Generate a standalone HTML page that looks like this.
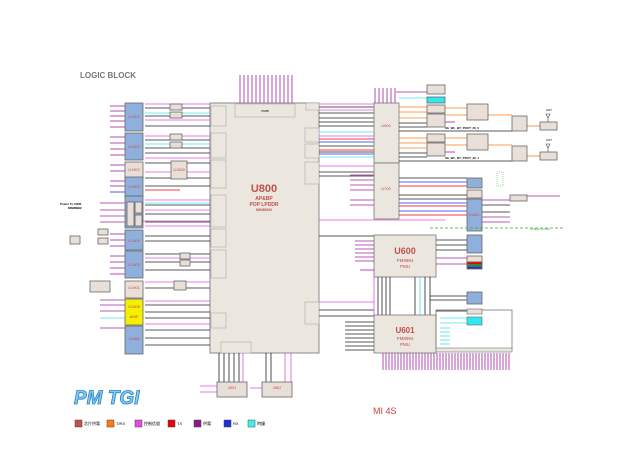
<!DOCTYPE html>
<html><head><meta charset="utf-8"><style>
html,body{margin:0;padding:0;background:#fff;}
svg{display:block;font-family:"Liberation Sans","Noto Sans CJK SC",sans-serif;}
</style></head><body>
<svg width="640" height="453" viewBox="0 0 640 453" xmlns="http://www.w3.org/2000/svg">
<rect width="640" height="453" fill="#fff"/>
<text x="80" y="78" font-size="8" font-weight="bold" fill="#777">LOGIC BLOCK</text>

<!-- U800 -->
<rect x="210" y="103" width="109" height="250" fill="#ebe7df" stroke="#888" stroke-width="1"/>
<rect x="235" y="104" width="60" height="13" fill="#ebe7df" stroke="#aaa" stroke-width="0.6"/>
<text x="265" y="112" font-size="3" text-anchor="middle">PMIB</text>
<g fill="#ebe7df" stroke="#aaa" stroke-width="0.6" font-size="3">
<rect x="211" y="106" width="15" height="20"/><rect x="211" y="133" width="15" height="25"/>
<rect x="211" y="160" width="15" height="28"/><rect x="211" y="195" width="15" height="32"/>
<rect x="211" y="229" width="15" height="18"/><rect x="211" y="250" width="15" height="28"/>
<rect x="211" y="313" width="15" height="15"/><rect x="221" y="342" width="30" height="11"/>
<rect x="306" y="103" width="13" height="7"/><rect x="305" y="128" width="14" height="14"/>
<rect x="305" y="144" width="14" height="14"/><rect x="305" y="162" width="14" height="22"/>
<rect x="305" y="302" width="14" height="22"/>
</g>
<text x="264" y="192" font-size="11" font-weight="bold" fill="#c0504d" text-anchor="middle">U800</text>
<text x="264" y="200" font-size="5" font-weight="bold" fill="#c0504d" text-anchor="middle">AP&amp;BP</text>
<text x="264" y="206" font-size="5" font-weight="bold" fill="#c0504d" text-anchor="middle">POP LPDDR</text>
<text x="264" y="211" font-size="3.5" font-weight="bold" fill="#c0504d" text-anchor="middle">MSM8992</text>

<!-- top pins U800 -->
<g stroke="#a020a0" stroke-width="0.8">
<line x1="240" y1="75" x2="240" y2="103"/><line x1="244" y1="75" x2="244" y2="103"/><line x1="248" y1="75" x2="248" y2="103"/><line x1="252" y1="75" x2="252" y2="103"/><line x1="256" y1="75" x2="256" y2="103"/><line x1="260" y1="75" x2="260" y2="103"/><line x1="264" y1="75" x2="264" y2="103"/><line x1="268" y1="75" x2="268" y2="103"/><line x1="272" y1="75" x2="272" y2="103"/><line x1="276" y1="75" x2="276" y2="103"/><line x1="280" y1="75" x2="280" y2="103"/><line x1="284" y1="75" x2="284" y2="103"/><line x1="288" y1="75" x2="288" y2="103"/><line x1="292" y1="75" x2="292" y2="103"/>
</g>

<!-- left side lines -->
<g stroke-width="0.8">
<g stroke="#222">
<line x1="145" y1="108" x2="210" y2="108"/><line x1="145" y1="116" x2="210" y2="116"/><line x1="145" y1="126" x2="210" y2="126"/><line x1="145" y1="140" x2="210" y2="140"/><line x1="145" y1="148" x2="210" y2="148"/><line x1="145" y1="153" x2="210" y2="153"/><line x1="145" y1="163" x2="210" y2="163"/><line x1="145" y1="178" x2="210" y2="178"/><line x1="145" y1="186" x2="210" y2="186"/><line x1="145" y1="205" x2="210" y2="205"/><line x1="145" y1="214" x2="210" y2="214"/><line x1="145" y1="222" x2="210" y2="222"/><line x1="145" y1="236" x2="210" y2="236"/><line x1="145" y1="241" x2="210" y2="241"/><line x1="145" y1="254" x2="210" y2="254"/><line x1="145" y1="262" x2="210" y2="262"/><line x1="145" y1="270" x2="210" y2="270"/><line x1="145" y1="288" x2="210" y2="288"/><line x1="145" y1="305" x2="210" y2="305"/><line x1="145" y1="312" x2="210" y2="312"/><line x1="145" y1="318" x2="210" y2="318"/><line x1="145" y1="330" x2="210" y2="330"/><line x1="145" y1="338" x2="210" y2="338"/><line x1="145" y1="345" x2="210" y2="345"/>
</g>
<g stroke="#e050e0">
<line x1="145" y1="104" x2="210" y2="104"/><line x1="145" y1="120" x2="210" y2="120"/><line x1="145" y1="136" x2="210" y2="136"/><line x1="145" y1="158" x2="210" y2="158"/><line x1="145" y1="172" x2="210" y2="172"/><line x1="145" y1="200" x2="210" y2="200"/><line x1="145" y1="210" x2="210" y2="210"/><line x1="145" y1="226" x2="210" y2="226"/><line x1="145" y1="258" x2="210" y2="258"/><line x1="145" y1="282" x2="210" y2="282"/><line x1="145" y1="301" x2="210" y2="301"/><line x1="145" y1="324" x2="210" y2="324"/><line x1="136" y1="221" x2="210" y2="221"/>
</g>
<g stroke="#40e0f0">
<line x1="145" y1="113" x2="210" y2="113"/><line x1="145" y1="144" x2="210" y2="144"/><line x1="145" y1="203" x2="210" y2="203"/>
</g>
<line x1="145" y1="190" x2="180" y2="190" stroke="#e00"/>
</g>
<!-- left chip inputs -->
<g stroke="#a020a0" stroke-width="0.8">
<line x1="110" y1="106" x2="125" y2="106"/><line x1="110" y1="111" x2="125" y2="111"/><line x1="110" y1="116" x2="125" y2="116"/><line x1="110" y1="121" x2="125" y2="121"/><line x1="110" y1="127" x2="125" y2="127"/>
<line x1="110" y1="137" x2="125" y2="137"/><line x1="110" y1="143" x2="125" y2="143"/><line x1="110" y1="149" x2="125" y2="149"/><line x1="110" y1="155" x2="125" y2="155"/>
<line x1="110" y1="165" x2="125" y2="165"/><line x1="110" y1="171" x2="125" y2="171"/><line x1="110" y1="181" x2="125" y2="181"/><line x1="110" y1="186" x2="125" y2="186"/>
<line x1="100" y1="203" x2="125" y2="203"/><line x1="100" y1="210" x2="125" y2="210"/><line x1="100" y1="216" x2="125" y2="216"/><line x1="100" y1="222" x2="125" y2="222"/>
<line x1="110" y1="234" x2="125" y2="234"/><line x1="110" y1="240" x2="125" y2="240"/><line x1="110" y1="246" x2="125" y2="246"/>
<line x1="110" y1="256" x2="125" y2="256"/><line x1="110" y1="262" x2="125" y2="262"/><line x1="110" y1="268" x2="125" y2="268"/><line x1="110" y1="274" x2="125" y2="274"/>
<line x1="100" y1="300" x2="125" y2="300"/><line x1="100" y1="305" x2="125" y2="305"/><line x1="100" y1="311" x2="125" y2="311"/><line x1="100" y1="328" x2="125" y2="328"/>
</g>
<line x1="100" y1="318" x2="125" y2="318" stroke="#40e0f0" stroke-width="0.8"/>
<line x1="110" y1="192" x2="125" y2="192" stroke="#2030e0" stroke-width="0.8"/>

<!-- left chips -->
<g stroke="#666" stroke-width="0.8">
<rect x="125" y="103" width="18" height="28" fill="#8fb0dc"/>
<rect x="125" y="133" width="18" height="27" fill="#8fb0dc"/>
<rect x="125" y="162" width="18" height="16" fill="#e8e0d8"/>
<rect x="125" y="177" width="18" height="19" fill="#8fb0dc"/>
<rect x="125" y="196" width="18" height="32" fill="#8fb0dc"/>
<rect x="127" y="202" width="7" height="24" fill="#e8e0d8"/><rect x="135" y="202" width="7" height="11" fill="#e8e0d8"/><rect x="135" y="215" width="7" height="11" fill="#e8e0d8"/>
<rect x="125" y="230" width="18" height="20" fill="#8fb0dc"/>
<rect x="125" y="251" width="18" height="27" fill="#8fb0dc"/>
<rect x="125" y="281" width="18" height="17" fill="#e8e0d8"/>
<rect x="125" y="299" width="18" height="26" fill="#f5f000"/>
<rect x="125" y="326" width="18" height="28" fill="#8fb0dc"/>
<rect x="170" y="104" width="12" height="6" fill="#e8e0d8"/><rect x="170" y="112" width="12" height="6" fill="#e8e0d8"/>
<rect x="170" y="134" width="12" height="6" fill="#e8e0d8"/><rect x="170" y="142" width="12" height="6" fill="#e8e0d8"/>
<rect x="171" y="161" width="16" height="18" fill="#e8e0d8"/>
<rect x="98" y="229" width="10" height="6" fill="#e8e0d8"/><rect x="98" y="238" width="10" height="6" fill="#e8e0d8"/>
<rect x="70" y="236" width="10" height="8" fill="#e8e0d8"/>
<rect x="180" y="253" width="10" height="6" fill="#e8e0d8"/><rect x="180" y="260" width="10" height="6" fill="#e8e0d8"/>
<rect x="174" y="281" width="12" height="9" fill="#e8e0d8"/>
<rect x="90" y="281" width="20" height="11" fill="#e8e0d8"/>
</g>
<g font-size="4" fill="#c0504d" text-anchor="middle">
<text x="134" y="118">U1301</text><text x="134" y="148">U1302</text><text x="134" y="171">U1902</text><text x="134" y="188">U1903</text><text x="134" y="242">U1304</text><text x="134" y="266">U1303</text><text x="134" y="289">U1901</text><text x="134" y="308">U1509</text><text x="134" y="318">AMP</text><text x="134" y="340">J1308</text><text x="179" y="171">U1500</text>
</g>
<text x="60" y="205" font-size="3" font-weight="bold">Power To U800</text>
<text x="68" y="209" font-size="3" font-weight="bold">MSM8992</text>

<!-- bottom chips -->
<g stroke="#222" stroke-width="0.8">
<line x1="219" y1="353" x2="219" y2="382"/><line x1="224" y1="353" x2="224" y2="382"/><line x1="229" y1="353" x2="229" y2="382"/><line x1="234" y1="353" x2="234" y2="382"/><line x1="239" y1="353" x2="239" y2="382"/><line x1="266" y1="353" x2="266" y2="382"/><line x1="271" y1="353" x2="271" y2="382"/>
</g>
<g stroke="#e050e0" stroke-width="0.8"><line x1="243" y1="353" x2="243" y2="382"/><line x1="285" y1="353" x2="285" y2="382"/><line x1="291" y1="353" x2="291" y2="382"/><line x1="200" y1="386" x2="217" y2="386"/><line x1="200" y1="392" x2="217" y2="392"/><line x1="250" y1="388" x2="262" y2="388"/></g>
<rect x="217" y="382" width="30" height="15" fill="#e8e0d8" stroke="#666" stroke-width="0.8"/>
<rect x="262" y="382" width="30" height="15" fill="#e8e0d8" stroke="#666" stroke-width="0.8"/>
<text x="232" y="389" font-size="3.5" fill="#c0504d" text-anchor="middle">U803</text>
<text x="277" y="389" font-size="3.5" fill="#c0504d" text-anchor="middle">U802</text>

<!-- right of U800 lines -->
<g stroke-width="0.8">
<g stroke="#e050e0"><line x1="319" y1="104" x2="374" y2="104"/><line x1="319" y1="110" x2="374" y2="110"/><line x1="319" y1="136" x2="374" y2="136"/><line x1="319" y1="166" x2="374" y2="166"/><line x1="319" y1="220" x2="445" y2="220"/><line x1="319" y1="302" x2="374" y2="302"/></g>
<g stroke="#222"><line x1="319" y1="107" x2="374" y2="107"/><line x1="319" y1="113" x2="374" y2="113"/><line x1="319" y1="118" x2="374" y2="118"/><line x1="319" y1="122" x2="374" y2="122"/><line x1="319" y1="126" x2="374" y2="126"/><line x1="319" y1="146" x2="374" y2="146"/><line x1="319" y1="152" x2="374" y2="152"/><line x1="319" y1="172" x2="374" y2="172"/><line x1="319" y1="176" x2="374" y2="176"/><line x1="319" y1="236" x2="374" y2="236"/><line x1="319" y1="310" x2="374" y2="310"/><line x1="319" y1="316" x2="374" y2="316"/></g>
<g stroke="#40e0f0"><line x1="319" y1="132" x2="374" y2="132"/><line x1="319" y1="157" x2="374" y2="157"/></g>
<g stroke="#e00"><line x1="319" y1="139" x2="374" y2="139"/><line x1="319" y1="150" x2="374" y2="150"/></g>
<g stroke="#2030e0"><line x1="319" y1="142" x2="374" y2="142"/><line x1="319" y1="154" x2="374" y2="154"/></g>
</g>

<!-- U500 U700 -->
<rect x="374" y="103" width="25" height="60" fill="#ebe7df" stroke="#777" stroke-width="0.8"/>
<rect x="374" y="163" width="25" height="56" fill="#ebe7df" stroke="#777" stroke-width="0.8"/>
<text x="386" y="127" font-size="4" fill="#c0504d" text-anchor="middle">U500</text>
<text x="386" y="190" font-size="4" fill="#c0504d" text-anchor="middle">U700</text>
<g stroke="#a020a0" stroke-width="0.8"><line x1="375" y1="88" x2="375" y2="103"/><line x1="379" y1="88" x2="379" y2="103"/><line x1="383" y1="88" x2="383" y2="103"/><line x1="387" y1="88" x2="387" y2="103"/><line x1="391" y1="88" x2="391" y2="103"/><line x1="395" y1="88" x2="395" y2="103"/><line x1="396" y1="92" x2="427" y2="92"/></g>
<line x1="399" y1="98" x2="427" y2="98" stroke="#40e0f0" stroke-width="0.8"/>
<!-- U500 right lines -->
<g stroke-width="0.8">
<g stroke="#ff7a10"><line x1="399" y1="107" x2="427" y2="107"/><line x1="399" y1="112" x2="427" y2="112"/><line x1="399" y1="118" x2="427" y2="118"/><line x1="399" y1="138" x2="427" y2="138"/><line x1="399" y1="143" x2="427" y2="143"/><line x1="399" y1="148" x2="427" y2="148"/><line x1="445" y1="108" x2="467" y2="108"/><line x1="445" y1="115" x2="467" y2="115"/><line x1="445" y1="138" x2="467" y2="138"/><line x1="445" y1="145" x2="467" y2="145"/><line x1="488" y1="115" x2="512" y2="115"/><line x1="488" y1="145" x2="512" y2="145"/><line x1="527" y1="126" x2="540" y2="126"/><line x1="527" y1="156" x2="540" y2="156"/></g>
<g stroke="#222"><line x1="399" y1="123" x2="427" y2="123"/><line x1="399" y1="127" x2="427" y2="127"/><line x1="399" y1="131" x2="512" y2="131"/><line x1="399" y1="153" x2="427" y2="153"/><line x1="399" y1="157" x2="427" y2="157"/><line x1="399" y1="161" x2="512" y2="161"/></g>
<g stroke="#a020a0"><line x1="445" y1="122" x2="455" y2="122"/><line x1="445" y1="152" x2="455" y2="152"/></g>
</g>
<g stroke="#666" stroke-width="0.8" fill="#e8e0d8">
<rect x="427" y="85" width="18" height="9"/><rect x="427" y="97" width="18" height="6" fill="#30e8f0"/>
<rect x="427" y="105" width="18" height="8"/><rect x="427" y="114" width="18" height="13"/>
<rect x="427" y="134" width="18" height="8"/><rect x="427" y="143" width="18" height="13"/>
<rect x="467" y="104" width="21" height="16"/><rect x="467" y="134" width="21" height="16"/>
<rect x="512" y="116" width="15" height="15"/><rect x="512" y="146" width="15" height="15"/>
<rect x="540" y="122" width="17" height="8"/><rect x="540" y="152" width="17" height="8"/>
</g>
<g stroke="#444" stroke-width="0.6" fill="none"><path d="M546 114 L550 114 L548 118 Z M548 118 V122"/><path d="M546 144 L550 144 L548 148 Z M548 148 V152"/></g>
<text x="546" y="111" font-size="3">ANT</text><text x="546" y="141" font-size="3">ANT</text>
<text x="445" y="129" font-size="3" font-weight="bold">3G_WL_BT_POUT_IN_0</text>
<text x="445" y="159" font-size="3" font-weight="bold">3G_WL_BT_POUT_IN_1</text>
<!-- U700 right -->
<g stroke-width="0.8">
<g stroke="#2030e0"><line x1="399" y1="182" x2="467" y2="182"/><line x1="399" y1="203" x2="467" y2="203"/><line x1="399" y1="211" x2="467" y2="211"/></g>
<g stroke="#e00"><line x1="399" y1="186" x2="467" y2="186"/><line x1="399" y1="206" x2="467" y2="206"/><line x1="399" y1="215" x2="467" y2="215"/></g>
<g stroke="#222"><line x1="399" y1="178" x2="467" y2="178"/><line x1="399" y1="195" x2="467" y2="195"/><line x1="399" y1="199" x2="467" y2="199"/><line x1="482" y1="205" x2="510" y2="205"/><line x1="482" y1="212" x2="510" y2="212"/></g>
<g stroke="#a020a0"><line x1="482" y1="200" x2="510" y2="200"/><line x1="482" y1="217" x2="510" y2="217"/><line x1="482" y1="222" x2="510" y2="222"/><line x1="527" y1="196" x2="560" y2="196"/><line x1="350" y1="175" x2="374" y2="175"/><line x1="350" y1="180" x2="374" y2="180"/><line x1="350" y1="185" x2="374" y2="185"/><line x1="350" y1="190" x2="374" y2="190"/><line x1="350" y1="200" x2="374" y2="200"/><line x1="350" y1="205" x2="374" y2="205"/></g>
</g>
<g stroke="#666" stroke-width="0.8">
<rect x="467" y="178" width="15" height="10" fill="#8fb0dc"/><rect x="467" y="190" width="15" height="8" fill="#e8e0d8"/>
<rect x="467" y="199" width="15" height="32" fill="#8fb0dc"/><rect x="510" y="195" width="17" height="6" fill="#e8e0d8"/>
<rect x="467" y="235" width="15" height="18" fill="#8fb0dc"/><rect x="467" y="256" width="15" height="6" fill="#e8e0d8"/>
<rect x="467" y="262" width="15" height="7" fill="#2030e0"/><rect x="467" y="262" width="15" height="2.5" fill="#e00"/><rect x="467" y="264.5" width="15" height="2" fill="#0a0"/>
</g>
<text x="474" y="216" font-size="3.5" fill="#c0504d" text-anchor="middle">U1402</text>
<line x1="430" y1="228" x2="565" y2="228" stroke="#3a3" stroke-width="0.8" stroke-dasharray="3,2"/>
<text x="530" y="230" font-size="3" fill="#3a3">Charge current</text>
<rect x="497" y="172" width="6" height="14" fill="none" stroke="#3a3" stroke-width="0.5" stroke-dasharray="1,1"/>

<!-- U600 -->
<rect x="374" y="235" width="62" height="42" fill="#ebe7df" stroke="#777" stroke-width="0.8"/>
<text x="405" y="254" font-size="9" font-weight="bold" fill="#c0504d" text-anchor="middle">U600</text>
<text x="405" y="262" font-size="4.5" fill="#c0504d" text-anchor="middle">PM8994</text>
<text x="405" y="268" font-size="4.5" fill="#c0504d" text-anchor="middle">PMU</text>
<g stroke-width="0.8"><g stroke="#222"><line x1="436" y1="240" x2="467" y2="240"/><line x1="436" y1="245" x2="467" y2="245"/><line x1="436" y1="250" x2="467" y2="250"/></g>
<g stroke="#a020a0"><line x1="436" y1="258" x2="467" y2="258"/><line x1="436" y1="264" x2="467" y2="264"/><line x1="355" y1="241" x2="374" y2="241"/><line x1="355" y1="245" x2="374" y2="245"/><line x1="355" y1="249" x2="374" y2="249"/><line x1="355" y1="253" x2="374" y2="253"/><line x1="355" y1="257" x2="374" y2="257"/><line x1="355" y1="261" x2="374" y2="261"/><line x1="360" y1="270" x2="374" y2="270"/></g>
<g stroke="#222"><line x1="378" y1="277" x2="378" y2="315"/><line x1="382" y1="277" x2="382" y2="315"/><line x1="386" y1="277" x2="386" y2="315"/><line x1="390" y1="277" x2="390" y2="315"/><line x1="415" y1="277" x2="415" y2="315"/><line x1="425" y1="277" x2="425" y2="315"/><line x1="430" y1="277" x2="430" y2="315"/><line x1="430" y1="296" x2="467" y2="296"/><line x1="430" y1="300" x2="467" y2="300"/></g>
<line x1="420" y1="277" x2="420" y2="315" stroke="#40e0f0"/><line x1="374" y1="275" x2="374" y2="315" stroke="#e050e0"/>
</g>
<rect x="467" y="292" width="15" height="12" fill="#8fb0dc" stroke="#666" stroke-width="0.8"/>
<!-- U601 -->
<rect x="374" y="315" width="62" height="38" fill="#ebe7df" stroke="#777" stroke-width="0.8"/>
<rect x="436" y="310" width="76" height="40" fill="none" stroke="#777" stroke-width="0.8"/>
<rect x="436" y="348" width="76" height="4" fill="#ebe7df" stroke="#777" stroke-width="0.6"/>
<text x="405" y="333" font-size="8" font-weight="bold" fill="#c0504d" text-anchor="middle">U601</text>
<text x="405" y="340" font-size="4.5" fill="#c0504d" text-anchor="middle">PM8994</text>
<text x="405" y="346" font-size="4.5" fill="#c0504d" text-anchor="middle">PMU</text>
<g stroke-width="0.8">
<g stroke="#222"><line x1="436" y1="311" x2="467" y2="311"/></g>
<g stroke="#40e0f0"><line x1="440" y1="318" x2="467" y2="318"/><line x1="440" y1="323" x2="467" y2="323"/><line x1="440" y1="328" x2="450" y2="328"/><line x1="440" y1="332" x2="450" y2="332"/><line x1="440" y1="336" x2="450" y2="336"/><line x1="440" y1="340" x2="450" y2="340"/><line x1="440" y1="344" x2="450" y2="344"/></g>
<g stroke="#222"><line x1="345" y1="322" x2="374" y2="322"/><line x1="345" y1="326" x2="374" y2="326"/><line x1="345" y1="330" x2="374" y2="330"/><line x1="345" y1="334" x2="374" y2="334"/><line x1="345" y1="338" x2="374" y2="338"/><line x1="345" y1="342" x2="374" y2="342"/><line x1="345" y1="346" x2="374" y2="346"/><line x1="345" y1="350" x2="374" y2="350"/></g>
</g>
<rect x="467" y="309" width="15" height="5" fill="#e8e0d8" stroke="#666" stroke-width="0.6"/>
<rect x="467" y="317" width="15" height="8" fill="#30e8f0" stroke="#666" stroke-width="0.6"/>
<!-- bottom pins U601 -->
<g stroke="#a020a0" stroke-width="0.8">
<line x1="383" y1="353" x2="383" y2="370"/><line x1="386" y1="353" x2="386" y2="370"/><line x1="389" y1="353" x2="389" y2="370"/><line x1="392" y1="353" x2="392" y2="370"/><line x1="395" y1="353" x2="395" y2="370"/><line x1="398" y1="353" x2="398" y2="370"/><line x1="401" y1="353" x2="401" y2="370"/><line x1="404" y1="353" x2="404" y2="370"/><line x1="407" y1="353" x2="407" y2="370"/><line x1="410" y1="353" x2="410" y2="370"/><line x1="413" y1="353" x2="413" y2="370"/><line x1="416" y1="353" x2="416" y2="370"/><line x1="419" y1="353" x2="419" y2="370"/><line x1="422" y1="353" x2="422" y2="370"/><line x1="425" y1="353" x2="425" y2="370"/><line x1="428" y1="353" x2="428" y2="370"/><line x1="431" y1="353" x2="431" y2="370"/><line x1="434" y1="353" x2="434" y2="370"/><line x1="437" y1="353" x2="437" y2="370"/><line x1="440" y1="353" x2="440" y2="370"/><line x1="443" y1="353" x2="443" y2="370"/><line x1="446" y1="353" x2="446" y2="370"/><line x1="449" y1="353" x2="449" y2="370"/><line x1="452" y1="353" x2="452" y2="370"/><line x1="455" y1="353" x2="455" y2="370"/><line x1="458" y1="353" x2="458" y2="370"/><line x1="461" y1="353" x2="461" y2="370"/><line x1="464" y1="353" x2="464" y2="370"/><line x1="467" y1="353" x2="467" y2="370"/><line x1="470" y1="353" x2="470" y2="370"/><line x1="473" y1="353" x2="473" y2="370"/><line x1="476" y1="353" x2="476" y2="370"/><line x1="479" y1="353" x2="479" y2="370"/><line x1="482" y1="353" x2="482" y2="370"/><line x1="485" y1="353" x2="485" y2="370"/><line x1="488" y1="353" x2="488" y2="370"/><line x1="491" y1="353" x2="491" y2="370"/><line x1="494" y1="353" x2="494" y2="370"/><line x1="497" y1="353" x2="497" y2="370"/><line x1="500" y1="353" x2="500" y2="370"/><line x1="503" y1="353" x2="503" y2="370"/><line x1="506" y1="353" x2="506" y2="370"/><line x1="509" y1="353" x2="509" y2="370"/>
</g>

<!-- logo -->
<text x="74" y="404" font-size="19" font-weight="bold" font-style="italic" fill="#7fd0f5" stroke="#2a80c0" stroke-width="0.8">PM TGI</text>
<text x="373" y="414" font-size="9" fill="#d04040">MI 4S</text>

<!-- legend -->
<g font-size="4" stroke="#444" stroke-width="0.5">
<rect x="75" y="420" width="7" height="7" fill="#c0504d"/><text x="84" y="425" stroke="none">芯片供電</text>
<rect x="107" y="420" width="7" height="7" fill="#ff7a10"/><text x="116" y="425" stroke="none">T/RX</text>
<rect x="135" y="420" width="7" height="7" fill="#e050e0"/><text x="144" y="425" stroke="none">控制信號</text>
<rect x="168" y="420" width="7" height="7" fill="#e00"/><text x="177" y="425" stroke="none">TX</text>
<rect x="194" y="420" width="7" height="7" fill="#8a1a8a"/><text x="203" y="425" stroke="none">供電</text>
<rect x="224" y="420" width="7" height="7" fill="#2030e0"/><text x="233" y="425" stroke="none">RX</text>
<rect x="248" y="420" width="7" height="7" fill="#40f0f0"/><text x="257" y="425" stroke="none">時鐘</text>
</g>
</svg>
</body></html>
